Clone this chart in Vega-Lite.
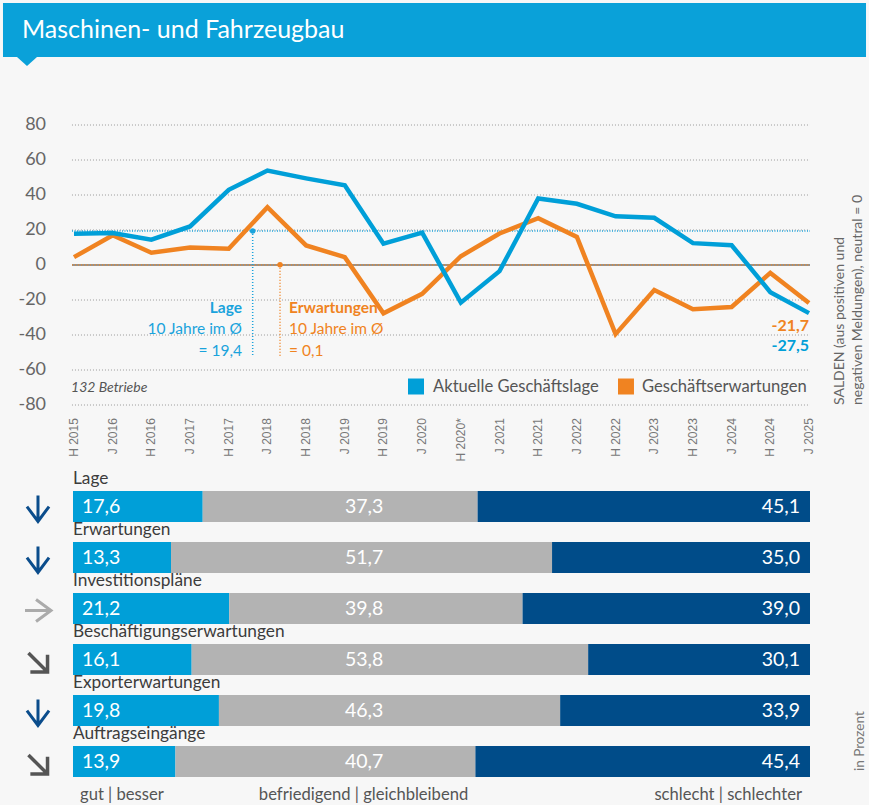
{
"$schema": "https://vega.github.io/schema/vega-lite/v6.json",
"width": 869, "height": 805,
"autosize": {"type": "none"},
"padding": 0,
"background": "#f7f7f7",
"config": {
  "view": {"stroke": null},
  "font": "Lato",
  "axis": {"disable": true},
  "legend": {"disable": true},
  "locale": {"number": {"decimal": ",", "thousands": ".", "grouping": [3], "currency": ["", " €"], "minus": "-"}}
},
"datasets": {
  "saldo": [
    {"period": "H 2015", "series": "Aktuelle Geschäftslage", "v": 17.8}, {"period": "H 2015", "series": "Geschäftserwartungen", "v": 4.5},
    {"period": "J 2016", "series": "Aktuelle Geschäftslage", "v": 18.3}, {"period": "J 2016", "series": "Geschäftserwartungen", "v": 17},
    {"period": "H 2016", "series": "Aktuelle Geschäftslage", "v": 14.5}, {"period": "H 2016", "series": "Geschäftserwartungen", "v": 7},
    {"period": "J 2017", "series": "Aktuelle Geschäftslage", "v": 22}, {"period": "J 2017", "series": "Geschäftserwartungen", "v": 10},
    {"period": "H 2017", "series": "Aktuelle Geschäftslage", "v": 43}, {"period": "H 2017", "series": "Geschäftserwartungen", "v": 9.3},
    {"period": "J 2018", "series": "Aktuelle Geschäftslage", "v": 54}, {"period": "J 2018", "series": "Geschäftserwartungen", "v": 33},
    {"period": "H 2018", "series": "Aktuelle Geschäftslage", "v": 49.5}, {"period": "H 2018", "series": "Geschäftserwartungen", "v": 11.2},
    {"period": "J 2019", "series": "Aktuelle Geschäftslage", "v": 45.5}, {"period": "J 2019", "series": "Geschäftserwartungen", "v": 4.5},
    {"period": "H 2019", "series": "Aktuelle Geschäftslage", "v": 12.2}, {"period": "H 2019", "series": "Geschäftserwartungen", "v": -27.6},
    {"period": "J 2020", "series": "Aktuelle Geschäftslage", "v": 18.5}, {"period": "J 2020", "series": "Geschäftserwartungen", "v": -16.5},
    {"period": "H 2020*", "series": "Aktuelle Geschäftslage", "v": -21.5}, {"period": "H 2020*", "series": "Geschäftserwartungen", "v": 5},
    {"period": "J 2021", "series": "Aktuelle Geschäftslage", "v": -3.5}, {"period": "J 2021", "series": "Geschäftserwartungen", "v": 18},
    {"period": "H 2021", "series": "Aktuelle Geschäftslage", "v": 38}, {"period": "H 2021", "series": "Geschäftserwartungen", "v": 26.7},
    {"period": "J 2022", "series": "Aktuelle Geschäftslage", "v": 35}, {"period": "J 2022", "series": "Geschäftserwartungen", "v": 16},
    {"period": "H 2022", "series": "Aktuelle Geschäftslage", "v": 27.8}, {"period": "H 2022", "series": "Geschäftserwartungen", "v": -39.5},
    {"period": "J 2023", "series": "Aktuelle Geschäftslage", "v": 27}, {"period": "J 2023", "series": "Geschäftserwartungen", "v": -14.3},
    {"period": "H 2023", "series": "Aktuelle Geschäftslage", "v": 12.5}, {"period": "H 2023", "series": "Geschäftserwartungen", "v": -25.3},
    {"period": "J 2024", "series": "Aktuelle Geschäftslage", "v": 11.3}, {"period": "J 2024", "series": "Geschäftserwartungen", "v": -24},
    {"period": "H 2024", "series": "Aktuelle Geschäftslage", "v": -15.5}, {"period": "H 2024", "series": "Geschäftserwartungen", "v": -4.5},
    {"period": "J 2025", "series": "Aktuelle Geschäftslage", "v": -27.5}, {"period": "J 2025", "series": "Geschäftserwartungen", "v": -21.7}
  ],
  "ticks": [{"t": 80}, {"t": 60}, {"t": 40}, {"t": 20}, {"t": 0}, {"t": -20}, {"t": -40}, {"t": -60}, {"t": -80}],
  "bars": [
    {"indicator": "Lage", "cat": "gut", "k": 1, "pct": 17.6},
    {"indicator": "Lage", "cat": "befriedigend", "k": 2, "pct": 37.3},
    {"indicator": "Lage", "cat": "schlecht", "k": 3, "pct": 45.1},
    {"indicator": "Erwartungen", "cat": "gut", "k": 1, "pct": 13.3},
    {"indicator": "Erwartungen", "cat": "befriedigend", "k": 2, "pct": 51.7},
    {"indicator": "Erwartungen", "cat": "schlecht", "k": 3, "pct": 35.0},
    {"indicator": "Investitionspläne", "cat": "gut", "k": 1, "pct": 21.2},
    {"indicator": "Investitionspläne", "cat": "befriedigend", "k": 2, "pct": 39.8},
    {"indicator": "Investitionspläne", "cat": "schlecht", "k": 3, "pct": 39.0},
    {"indicator": "Beschäftigungserwartungen", "cat": "gut", "k": 1, "pct": 16.1},
    {"indicator": "Beschäftigungserwartungen", "cat": "befriedigend", "k": 2, "pct": 53.8},
    {"indicator": "Beschäftigungserwartungen", "cat": "schlecht", "k": 3, "pct": 30.1},
    {"indicator": "Exporterwartungen", "cat": "gut", "k": 1, "pct": 19.8},
    {"indicator": "Exporterwartungen", "cat": "befriedigend", "k": 2, "pct": 46.3},
    {"indicator": "Exporterwartungen", "cat": "schlecht", "k": 3, "pct": 33.9},
    {"indicator": "Auftragseingänge", "cat": "gut", "k": 1, "pct": 13.9},
    {"indicator": "Auftragseingänge", "cat": "befriedigend", "k": 2, "pct": 40.7},
    {"indicator": "Auftragseingänge", "cat": "schlecht", "k": 3, "pct": 45.4}
  ],
  "trends": [
    {"indicator": "Lage", "trend": "fallend"},
    {"indicator": "Erwartungen", "trend": "fallend"},
    {"indicator": "Investitionspläne", "trend": "gleich"},
    {"indicator": "Beschäftigungserwartungen", "trend": "leicht fallend"},
    {"indicator": "Exporterwartungen", "trend": "fallend"},
    {"indicator": "Auftragseingänge", "trend": "leicht fallend"}
  ]
},
"layer": [
  {
    "data": {"values": [{}]},
    "layer": [
      {"mark": {"type": "rect", "color": "#0aa1d9"},
       "encoding": {
         "x": {"datum": -9.5, "type": "quantitative", "scale": {"domain": [0, 100], "range": [73, 810], "nice": false, "zero": false}},
         "x2": {"datum": 107.6},
         "y": {"datum": 149.71, "type": "quantitative", "scale": {"domain": [-80, 80], "range": [405, 125], "nice": false, "zero": false}},
         "y2": {"datum": 118.86}}},
      {"mark": {"type": "point", "shape": "M-1,-0.45L1,-0.45L0,0.45Z", "filled": true, "size": 400, "color": "#0aa1d9", "opacity": 1, "strokeWidth": 0},
       "encoding": {"x": {"datum": -6.24, "type": "quantitative"}, "y": {"datum": 116.29, "type": "quantitative"}}},
      {"mark": {"type": "text", "text": "Maschinen- und Fahrzeugbau", "align": "left", "baseline": "alphabetic", "fontSize": 25, "color": "#ffffff"},
       "encoding": {"x": {"datum": -6.92, "type": "quantitative"}, "y": {"datum": 130.0, "type": "quantitative"}}},
      {"data": {"name": "ticks"}, "transform": [{"filter": "datum.t != 0"}],
       "mark": {"type": "rule", "color": "#9a9a9a", "strokeDash": [1, 2], "strokeWidth": 1},
       "encoding": {"x": {"datum": -0.14, "type": "quantitative"}, "x2": {"datum": 100}, "y": {"field": "t", "type": "quantitative"}}},
      {"data": {"name": "ticks"},
       "mark": {"type": "text", "align": "right", "baseline": "middle", "fontSize": 18, "color": "#666666"},
       "encoding": {"x": {"datum": -3.66, "type": "quantitative"}, "y": {"field": "t", "type": "quantitative"}, "text": {"field": "t", "type": "quantitative", "format": "d"}}},
      {"mark": {"type": "rule", "color": "#7a7067", "strokeWidth": 1.5},
       "encoding": {"x": {"datum": -0.14, "type": "quantitative"}, "x2": {"datum": 100}, "y": {"datum": 0, "type": "quantitative"}}},
      {"mark": {"type": "rule", "color": "#e8892f", "strokeWidth": 1.2, "strokeDash": [1, 2]},
       "encoding": {"x": {"datum": -0.14, "type": "quantitative"}, "x2": {"datum": 100}, "y": {"datum": 0.1, "type": "quantitative"}}},
      {"mark": {"type": "rule", "color": "#1aa3dc", "strokeWidth": 1.5, "strokeDash": [1, 1.5]},
       "encoding": {"x": {"datum": -0.14, "type": "quantitative"}, "x2": {"datum": 100}, "y": {"datum": 19.4, "type": "quantitative"}}},
      {"mark": {"type": "rule", "color": "#1aa3dc", "strokeWidth": 1.5, "strokeDash": [1, 2]},
       "encoding": {"x": {"datum": 24.38, "type": "quantitative"}, "y": {"datum": 19.4, "type": "quantitative"}, "y2": {"datum": -52.57}}},
      {"mark": {"type": "rule", "color": "#f08321", "strokeWidth": 1.5, "strokeDash": [1, 2]},
       "encoding": {"x": {"datum": 28.09, "type": "quantitative"}, "y": {"datum": 0.1, "type": "quantitative"}, "y2": {"datum": -52.57}}},
      {"mark": {"type": "point", "shape": "circle", "filled": true, "size": 30, "color": "#1aa3dc", "opacity": 1},
       "encoding": {"x": {"datum": 24.38, "type": "quantitative"}, "y": {"datum": 19.4, "type": "quantitative"}}},
      {"mark": {"type": "point", "shape": "circle", "filled": true, "size": 30, "color": "#f08321", "opacity": 1},
       "encoding": {"x": {"datum": 28.09, "type": "quantitative"}, "y": {"datum": 0.1, "type": "quantitative"}}},
      {"mark": {"type": "text", "text": "Lage", "align": "right", "baseline": "middle", "fontSize": 15.5, "fontWeight": "bold", "color": "#1aa3dc"},
       "encoding": {"x": {"datum": 22.93, "type": "quantitative"}, "y": {"datum": -24.57, "type": "quantitative"}}},
      {"mark": {"type": "text", "text": "10 Jahre im Ø", "align": "right", "baseline": "middle", "fontSize": 15.5, "color": "#1aa3dc"},
       "encoding": {"x": {"datum": 22.93, "type": "quantitative"}, "y": {"datum": -36.57, "type": "quantitative"}}},
      {"mark": {"type": "text", "text": "= 19,4", "align": "right", "baseline": "middle", "fontSize": 15.5, "color": "#1aa3dc"},
       "encoding": {"x": {"datum": 22.93, "type": "quantitative"}, "y": {"datum": -49.14, "type": "quantitative"}}},
      {"mark": {"type": "text", "text": "Erwartungen", "align": "left", "baseline": "middle", "fontSize": 15.5, "fontWeight": "bold", "color": "#f08321"},
       "encoding": {"x": {"datum": 29.31, "type": "quantitative"}, "y": {"datum": -24.57, "type": "quantitative"}}},
      {"mark": {"type": "text", "text": "10 Jahre im Ø", "align": "left", "baseline": "middle", "fontSize": 15.5, "color": "#f08321"},
       "encoding": {"x": {"datum": 29.31, "type": "quantitative"}, "y": {"datum": -36.57, "type": "quantitative"}}},
      {"mark": {"type": "text", "text": "= 0,1", "align": "left", "baseline": "middle", "fontSize": 15.5, "color": "#f08321"},
       "encoding": {"x": {"datum": 29.31, "type": "quantitative"}, "y": {"datum": -49.14, "type": "quantitative"}}},
      {"mark": {"type": "text", "text": "132 Betriebe", "align": "left", "baseline": "middle", "fontSize": 14, "fontStyle": "italic", "color": "#555555"},
       "encoding": {"x": {"datum": -0.27, "type": "quantitative"}, "y": {"datum": -70.29, "type": "quantitative"}}},
      {"mark": {"type": "point", "shape": "square", "filled": true, "size": 256, "color": "#009fd8", "opacity": 1},
       "encoding": {"x": {"datum": 46.54, "type": "quantitative"}, "y": {"datum": -69.43, "type": "quantitative"}}},
      {"mark": {"type": "point", "shape": "square", "filled": true, "size": 256, "color": "#f08321", "opacity": 1},
       "encoding": {"x": {"datum": 75.03, "type": "quantitative"}, "y": {"datum": -69.43, "type": "quantitative"}}},
      {"mark": {"type": "text", "text": "Aktuelle Geschäftslage", "align": "left", "baseline": "middle", "fontSize": 16.6, "color": "#555555"},
       "encoding": {"x": {"datum": 48.85, "type": "quantitative"}, "y": {"datum": -69.43, "type": "quantitative"}}},
      {"mark": {"type": "text", "text": "Geschäftserwartungen", "align": "left", "baseline": "middle", "fontSize": 16.6, "color": "#555555"},
       "encoding": {"x": {"datum": 77.2, "type": "quantitative"}, "y": {"datum": -69.43, "type": "quantitative"}}},
      {"mark": {"type": "text", "text": "SALDEN (aus positiven und", "angle": 270, "align": "left", "baseline": "middle", "fontSize": 14, "color": "#666666"},
       "encoding": {"x": {"datum": 104.07, "type": "quantitative"}, "y": {"datum": -80, "type": "quantitative"}}},
      {"mark": {"type": "text", "text": "negativen Meldungen), neutral = 0", "angle": 270, "align": "left", "baseline": "middle", "fontSize": 14, "color": "#666666"},
       "encoding": {"x": {"datum": 106.51, "type": "quantitative"}, "y": {"datum": -80, "type": "quantitative"}}},
      {"mark": {"type": "text", "text": "in Prozent", "angle": 270, "align": "left", "baseline": "middle", "fontSize": 13.5, "color": "#777777"},
       "encoding": {"x": {"datum": 106.78, "type": "quantitative"}, "y": {"datum": -289.14, "type": "quantitative"}}},
      {"mark": {"type": "text", "text": "gut | besser", "align": "left", "baseline": "middle", "fontSize": 16.6, "color": "#555555"},
       "encoding": {"x": {"datum": 0.95, "type": "quantitative"}, "y": {"datum": -302.86, "type": "quantitative"}}},
      {"mark": {"type": "text", "text": "befriedigend | gleichbleibend", "align": "center", "baseline": "middle", "fontSize": 16.6, "color": "#555555"},
       "encoding": {"x": {"datum": 39.42, "type": "quantitative"}, "y": {"datum": -302.86, "type": "quantitative"}}},
      {"mark": {"type": "text", "text": "schlecht | schlechter", "align": "right", "baseline": "middle", "fontSize": 16.6, "color": "#555555"},
       "encoding": {"x": {"datum": 98.91, "type": "quantitative"}, "y": {"datum": -302.86, "type": "quantitative"}}}
    ]
  },
  {
    "data": {"name": "saldo"},
    "encoding": {
      "x": {"field": "period", "type": "nominal", "sort": null,
            "scale": {"type": "point", "domain": ["H 2015","J 2016","H 2016","J 2017","H 2017","J 2018","H 2018","J 2019","H 2019","J 2020","H 2020*","J 2021","H 2021","J 2022","H 2022","J 2023","H 2023","J 2024","H 2024","J 2025"], "range": [74, 809], "padding": 0}},
      "y": {"field": "v", "type": "quantitative", "scale": {"domain": [-80, 80], "range": [405, 125], "nice": false, "zero": false}}
    },
    "layer": [
      {"transform": [{"filter": "datum.series == 'Geschäftserwartungen'"}],
       "mark": {"type": "line", "color": "#f08321", "strokeWidth": 4.5}},
      {"transform": [{"filter": "datum.series == 'Aktuelle Geschäftslage'"}],
       "mark": {"type": "line", "color": "#009fd8", "strokeWidth": 4.5}},
      {"transform": [{"filter": "datum.series == 'Aktuelle Geschäftslage'"}],
       "mark": {"type": "text", "angle": 270, "align": "right", "baseline": "middle", "fontSize": 12, "font": "Liberation Sans", "color": "#777777"},
       "encoding": {"y": {"datum": -87.5, "type": "quantitative"}, "text": {"field": "period"}}},
      {"transform": [{"filter": "datum.series == 'Geschäftserwartungen' && datum.period == 'J 2025'"}],
       "mark": {"type": "text", "align": "right", "baseline": "middle", "fontSize": 16, "fontWeight": "bold", "color": "#f08321"},
       "encoding": {"y": {"datum": -34.9, "type": "quantitative"}, "text": {"field": "v", "type": "quantitative", "format": ".1f"}}},
      {"transform": [{"filter": "datum.series == 'Aktuelle Geschäftslage' && datum.period == 'J 2025'"}],
       "mark": {"type": "text", "align": "right", "baseline": "middle", "fontSize": 16, "fontWeight": "bold", "color": "#009fd8"},
       "encoding": {"y": {"datum": -46.3, "type": "quantitative"}, "text": {"field": "v", "type": "quantitative", "format": ".1f"}}}
    ]
  },
  {
    "data": {"name": "bars"},
    "encoding": {
      "y": {"field": "indicator", "type": "nominal",
            "scale": {"type": "band", "domain": ["Lage","Erwartungen","Investitionspläne","Beschäftigungserwartungen","Exporterwartungen","Auftragseingänge"], "range": [481, 787], "paddingInner": 0.392, "paddingOuter": 0.196}}
    },
    "layer": [
      {"mark": {"type": "bar"},
       "encoding": {
         "x": {"field": "pct", "type": "quantitative", "stack": "zero", "scale": {"domain": [0, 100], "range": [73, 810], "nice": false, "zero": false}},
         "color": {"field": "cat", "type": "nominal", "scale": {"domain": ["gut", "befriedigend", "schlecht"], "range": ["#009fd8", "#b3b3b3", "#004c89"]}},
         "order": {"field": "k", "type": "quantitative"}}},
      {"transform": [{"filter": "datum.cat == 'gut'"}],
       "mark": {"type": "text", "align": "left", "baseline": "middle", "dx": 9, "fontSize": 19.5, "color": "#ffffff"},
       "encoding": {"x": {"datum": 0, "type": "quantitative"}, "text": {"field": "pct", "type": "quantitative", "format": ".1f"}}},
      {"transform": [{"filter": "datum.cat == 'befriedigend'"}],
       "mark": {"type": "text", "align": "center", "baseline": "middle", "fontSize": 19.5, "color": "#ffffff"},
       "encoding": {"x": {"datum": 39.5, "type": "quantitative"}, "text": {"field": "pct", "type": "quantitative", "format": ".1f"}}},
      {"transform": [{"filter": "datum.cat == 'schlecht'"}],
       "mark": {"type": "text", "align": "right", "baseline": "middle", "dx": -10, "fontSize": 19.5, "color": "#ffffff"},
       "encoding": {"x": {"datum": 100, "type": "quantitative"}, "text": {"field": "pct", "type": "quantitative", "format": ".1f"}}},
      {"transform": [{"filter": "datum.cat == 'gut'"}],
       "mark": {"type": "text", "align": "left", "baseline": "middle", "dy": -27.5, "fontSize": 17.3, "color": "#3c3c3c"},
       "encoding": {"x": {"datum": 0, "type": "quantitative"}, "text": {"field": "indicator"}}},
      {"data": {"name": "trends"}, "transform": [{"filter": "datum.trend == 'fallend'"}],
       "mark": {"type": "point", "shape": "M0,-1L0,1M-0.85,-0.15L0,1L0.85,-0.15", "filled": false, "size": 676, "stroke": "#0b4d8c", "strokeWidth": 3, "opacity": 1, "yOffset": 2},
       "encoding": {"x": {"datum": -4.75, "type": "quantitative"}}},
      {"data": {"name": "trends"}, "transform": [{"filter": "datum.trend == 'gleich'"}],
       "mark": {"type": "point", "shape": "M0,-1L0,1M-0.85,-0.15L0,1L0.85,-0.15", "filled": false, "size": 676, "angle": 270, "stroke": "#ababab", "strokeWidth": 3, "opacity": 1, "yOffset": 2},
       "encoding": {"x": {"datum": -4.75, "type": "quantitative"}}},
      {"data": {"name": "trends"}, "transform": [{"filter": "datum.trend == 'leicht fallend'"}],
       "mark": {"type": "point", "shape": "M0,-1L0,1M-0.9,0.1L0,1L0.9,0.1", "filled": false, "size": 729, "angle": 315, "stroke": "#555555", "strokeWidth": 3.5, "opacity": 1, "yOffset": 3},
       "encoding": {"x": {"datum": -4.75, "type": "quantitative"}}}
    ]
  }
],
"resolve": {"scale": {"x": "independent", "y": "independent", "color": "independent"}}
}
